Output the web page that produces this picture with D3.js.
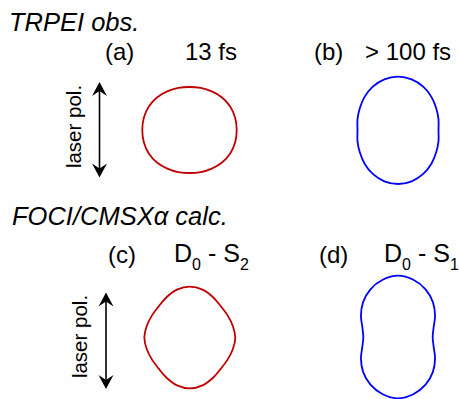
<!DOCTYPE html>
<html>
<head>
<meta charset="utf-8">
<script src="https://cdn.jsdelivr.net/npm/d3@7"></script>
<style>
  body { margin: 0; background: #fff; }
  text { font-family: Arial, "Liberation Sans", sans-serif; fill: #000; }
</style>
</head>
<body>
<svg id="chart" width="460" height="399"></svg>
<script>
// angle from the laser polarization axis (deg), one quadrant; curves are mirror symmetric
var angles = [0, 15, 30, 45, 60, 75, 90];
// relative photoelectron intensity
var obs13fs   = [0.717, 0.725, 0.742, 0.767, 0.783, 0.788, 0.787];
var obs100fs  = [0.895, 0.880, 0.840, 0.787, 0.735, 0.699, 0.675];
var calcD0S2  = [0.847, 0.825, 0.775, 0.733, 0.730, 0.743, 0.758];
var calcD0S1  = [1.022, 0.987, 0.918, 0.823, 0.713, 0.615, 0.578];

var panelLabels = ["(a)", "(b)", "(c)", "(d)"];
var sectionTitles = ["TRPEI obs.", "FOCI/CMSX\u03b1 calc."];

var svg = d3.select("#chart");
var rScale = d3.scaleLinear().domain([0, 1]).range([0, 60]);

// full turn from the one quadrant that was read
function fullTurn(vals) {
  var pts = [];
  for (var q = 0; q < 4; q++) {
    for (var i = 0; i < angles.length - 1; i++) {
      var k = (q % 2 == 0) ? i : angles.length - 1 - i;
      pts.push({a: q * 90 + angles[i], r: vals[k]});
    }
  }
  return pts;
}

var line = d3.lineRadial()
  .angle(function(d) { return d.a * Math.PI / 180; })
  .radius(function(d) { return rScale(d.r); })
  .curve(d3.curveCatmullRomClosed.alpha(0.5));

var panels = [
  {vals: obs13fs,  cx: 189.5, cy: 130,   color: "#c00000"},
  {vals: obs100fs, cx: 398,   cy: 130.3, color: "#0000ff"},
  {vals: calcD0S2, cx: 189.8, cy: 337.5, color: "#c00000"},
  {vals: calcD0S1, cx: 398,   cy: 337,   color: "#0000ff"}
];

svg.selectAll(".pad")
  .data(panels)
  .enter().append("path")
  .attr("class", "pad")
  .attr("transform", function(d) { return "translate(" + d.cx + "," + d.cy + ")"; })
  .attr("d", function(d) { return line(fullTurn(d.vals)); })
  .attr("fill", "none")
  .attr("stroke", function(d) { return d.color; })
  .attr("stroke-width", 1.8);

// section titles
svg.append("text").attr("x", 9).attr("y", 31)
  .style("font-size", "25.5px").style("font-style", "italic").text(sectionTitles[0]);
svg.append("text").attr("x", 12).attr("y", 225)
  .style("font-size", "25.5px").style("font-style", "italic").text(sectionTitles[1]);

// panel letters
var letterPos = [[105, 60], [314, 60], [108, 263], [319, 263]];
svg.selectAll(".plab")
  .data(panelLabels)
  .enter().append("text")
  .attr("class", "plab")
  .attr("x", function(d, i) { return letterPos[i][0]; })
  .attr("y", function(d, i) { return letterPos[i][1]; })
  .style("font-size", "24px")
  .text(function(d) { return d; });

svg.append("text").attr("x", 185).attr("y", 60).style("font-size", "24px").text("13 fs");
svg.append("text").attr("x", 365).attr("y", 60).style("font-size", "24px").text("> 100 fs");

function stateLabel(x, y, sub) {
  var t = svg.append("text").attr("x", x).attr("y", y).style("font-size", "25px");
  t.append("tspan").text("D");
  t.append("tspan").attr("dy", 8).style("font-size", "16px").text("0");
  t.append("tspan").attr("dy", -8).text(" - S");
  t.append("tspan").attr("dy", 8).style("font-size", "16px").text(sub);
}
stateLabel(174, 262, "2");
stateLabel(384, 262, "1");

// laser polarization arrows
function polArrow(x, y1, y2, tx, ty) {
  var g = svg.append("g");
  g.append("line").attr("x1", x).attr("x2", x).attr("y1", y1 + 4).attr("y2", y2 - 4)
    .attr("stroke", "#000").attr("stroke-width", 1.6);
  g.append("path").attr("d", "M" + x + "," + y1 + "l-7.5,14l7.5,-5l7.5,5z").attr("fill", "#000");
  g.append("path").attr("d", "M" + x + "," + y2 + "l-7.5,-14l7.5,5l7.5,-5z").attr("fill", "#000");
  g.append("text")
    .attr("transform", "translate(" + tx + "," + ty + ") rotate(-90)")
    .attr("text-anchor", "middle")
    .style("font-size", "20.5px")
    .text("laser pol.");
}
polArrow(99.5, 82, 177.5, 81, 126.5);
polArrow(106, 292.5, 389, 87, 336.5);
</script>
</body>
</html>
